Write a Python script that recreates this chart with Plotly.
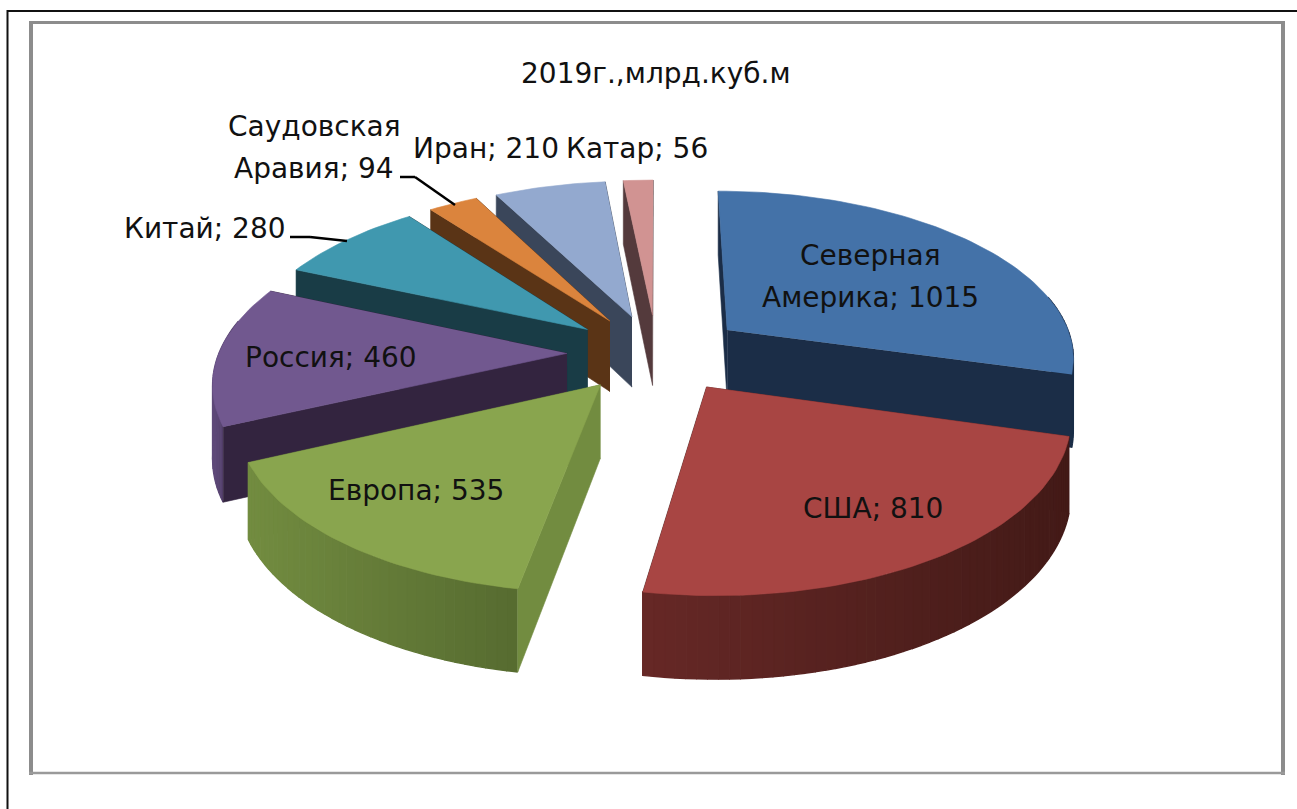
import numpy as np
import plotly.graph_objects as go

categories = ["Северная Америка", "США", "Европа", "Россия", "Китай",
              "Саудовская Аравия", "Иран", "Катар"]
values = [1015, 810, 535, 460, 280, 94, 210, 56]
title_text = "2019г.,млрд.куб.м"

top_colors = ["#4472a8", "#a84543", "#89a54e", "#71588f", "#4098af", "#db843d", "#93a9cf", "#d19392"]
face_colors = ["#1b2d47", "#451a17", "#728c40", "#33243f", "#193c46", "#5a3416", "#3a465a", "#543a3c"]
wall_left = ["#27426a", "#662826", "#728c40", "#5f4a7a", "#193c46", "#5a3416", "#3a465a", "#543a3c"]
wall_right = ["#1b2d47", "#431a17", "#566b30", "#33243f", "#193c46", "#5a3416", "#3a465a", "#543a3c"]
draw_order = [7, 6, 5, 4, 0, 3, 2, 1]

# projection of the tilted pie
CX, CY, RX, RY, K, DEPTH = 657, 353, 348, 166, 0.15, 72
EXPLODE_X, EXPLODE_Y = 0.2585, 0.235


def project(u, v, z=0.0):
    u, v = np.asarray(u, float), np.asarray(v, float)
    s = 1 / (1 - K * v)
    return CX + RX * u * s, CY + RY * v * s + DEPTH * s ** 0.75 * z


def hex_mix(a, b, t):
    ca = [int(a[i:i + 2], 16) for i in (1, 3, 5)]
    cb = [int(b[i:i + 2], 16) for i in (1, 3, 5)]
    return "rgb(%d,%d,%d)" % tuple(round(x + (y - x) * t) for x, y in zip(ca, cb))


fig = go.Figure()


def poly(xs, ys, color, width=0.6):
    fig.add_trace(go.Scatter(x=list(xs), y=list(ys), mode="lines", fill="toself", fillcolor=color,
                             line=dict(color=color, width=width), hoverinfo="skip", showlegend=False))


fractions = np.cumsum([0] + values) / sum(values) * 2 * np.pi
for i in draw_order:
    a0, a1 = fractions[i], fractions[i + 1]
    mid = (a0 + a1) / 2
    ou, ov = EXPLODE_X * np.sin(mid), -EXPLODE_Y * np.cos(mid)
    th = np.linspace(a0, a1, max(8, int((a1 - a0) * 40)))
    ru, rv = ou + np.sin(th), ov - np.cos(th)
    ax, ay = project(ou, ov, 0)
    mx, my = project(ou + np.sin(mid), ov - np.cos(mid), 0)

    faces = []
    for a in (a1, a0):
        eu, ev = ou + np.sin(a), ov - np.cos(a)
        x0, y0 = project([ou, eu], [ov, ev], 0)
        x1, y1 = project([eu, ou], [ev, ov], 1)
        ex, ey = x0[1], y0[1]
        # a radial face shows only when moving down from its top edge leaves the wedge
        cross_mid = (ex - ax) * (my - ay) - (ey - ay) * (mx - ax)
        cross_down = ex - ax
        faces.append((cross_mid * cross_down < 0, np.r_[x0, x1], np.r_[y0, y1]))

    for visible, fx, fy in faces:
        if not visible:
            poly(fx, fy, face_colors[i])

    # outer wall, shaded strip by strip; the far side of the rim is hidden
    xt, yt = project(ru, rv, 0)
    xb, yb = project(ru, rv, 1)
    lo, hi = xt.min(), xt.max()
    for j in range(len(th) - 1):
        if np.cos((th[j] + th[j + 1]) / 2) > 0.2:
            continue
        t = ((xt[j] + xt[j + 1]) / 2 - lo) / max(hi - lo, 1)
        c = hex_mix(wall_left[i], wall_right[i], t)
        poly([xt[j], xt[j + 1], xb[j + 1], xb[j]], [yt[j], yt[j + 1], yb[j + 1], yb[j]], c, 1.4)

    for visible, fx, fy in faces:
        if visible:
            poly(fx, fy, face_colors[i])

    # top
    xs, ys = project(np.r_[ou, ru], np.r_[ov, rv], 0)
    poly(xs, ys, top_colors[i])

FONT = dict(family="DejaVu Sans, sans-serif", size=28, color="#111111")
label_lines = {
    0: [("Северная", 870, 255), (f"Америка; {values[0]}", 870, 297)],
    1: [(f"{categories[1]}; {values[1]}", 873, 508)],
    2: [(f"{categories[2]}; {values[2]}", 416, 490)],
    3: [(f"{categories[3]}; {values[3]}", 331, 357)],
    4: [(f"{categories[4]}; {values[4]}", 205, 228)],
    5: [("Саудовская", 314, 126), (f"Аравия; {values[5]}", 314, 168)],
    6: [(f"{categories[6]}; {values[6]}", 486, 148)],
    7: [(f"{categories[7]}; {values[7]}", 637, 148)],
}
annotations = [dict(text=t, x=x, y=y, xref="x", yref="y", showarrow=False, font=FONT,
                    xanchor="center", yanchor="middle")
               for lines in label_lines.values() for t, x, y in lines]
annotations.append(dict(text=title_text, x=656, y=73, xref="x", yref="y", showarrow=False, font=FONT,
                        xanchor="center", yanchor="middle"))


def seg(x0, y0, x1, y1, color, width):
    return dict(type="line", x0=x0, y0=y0, x1=x1, y1=y1, xref="x", yref="y", layer="above",
                line=dict(color=color, width=width))


shapes = [
    seg(7, 11, 1297, 11, "#111111", 2),
    seg(7.5, 10, 7.5, 809, "#111111", 2),
    seg(29, 22.5, 1285, 22.5, "#8c8c8c", 3),
    seg(31, 21, 31, 775, "#8c8c8c", 4),
    seg(1283, 21, 1283, 775, "#8c8c8c", 4),
    seg(29, 773, 1285, 773, "#9a9a9a", 2.5),
    seg(400, 177, 415, 177, "#000000", 2.5),
    seg(415, 177, 455, 205, "#000000", 2.5),
    seg(290, 237, 310, 237, "#000000", 2.5),
    seg(310, 237, 347, 241, "#000000", 2.5),
]

fig.update_layout(
    width=1297, height=809, margin=dict(l=0, r=0, t=0, b=0), autosize=False,
    paper_bgcolor="white", plot_bgcolor="white", showlegend=False,
    xaxis=dict(range=[0, 1297], visible=False, fixedrange=True),
    yaxis=dict(range=[809, 0], visible=False, fixedrange=True),
    annotations=annotations, shapes=shapes,
)
fig.write_html("out.html", config=dict(displayModeBar=False),
               post_script="document.body.style.margin='0';document.body.style.overflow='hidden';")
